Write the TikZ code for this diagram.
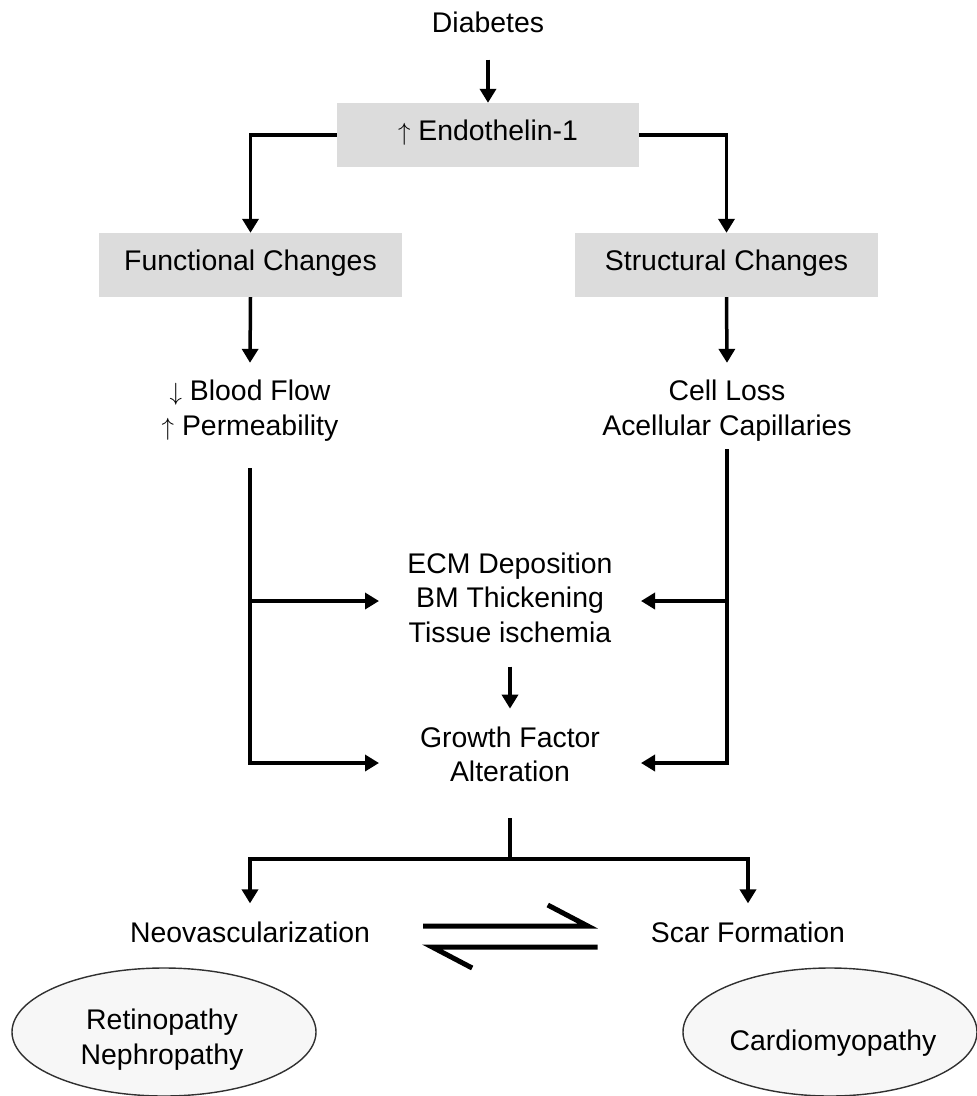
\documentclass[tikz,border=0pt]{standalone}
\usepackage{fontspec}
\setmainfont{Liberation Sans}
\usetikzlibrary{arrows.meta,shapes.geometric}
\definecolor{boxgray}{HTML}{DCDCDC}
\definecolor{ovalfill}{HTML}{F7F7F7}
\definecolor{ovaldraw}{HTML}{303030}

\begin{document}
\begin{tikzpicture}[x=1pt, y=-1pt,
    every node/.style={font=\fontsize{28.4}{34.5}\selectfont, inner sep=0pt, align=center},
    graybox/.style={fill=boxgray, minimum width=303pt, minimum height=64pt, text height=20pt, text depth=10pt},
    oval/.style={ellipse, fill=ovalfill, draw=ovaldraw, line width=1.4pt},
    link/.style={line width=3.5pt},
    flow/.style={link, -{Triangle[width=16pt,length=14pt]}},
    harp/.style={line width=5pt, line join=miter}]

    \useasboundingbox (0,0) rectangle (977,1096);

    % Top of the cascade
    \node (diab) at (488,22) {Diabetes};
    \node[graybox, minimum width=302pt] (endo) at (488,135) {$\uparrow$ Endothelin-1};
    \node[graybox] (func) at (250.5,265) {Functional Changes};
    \node[graybox] (struct) at (726.5,265) {Structural Changes};

    \draw[flow] ([yshift=-27pt]diab.south) -- (endo.north);
    \draw[flow] (endo.west) -| (func.north);
    \draw[flow] (endo.east) -| (struct.north);

    % The two branches
    \node (blood) at (250,410.5) {$\downarrow$ Blood Flow\\$\uparrow$ Permeability};
    \node (cell) at (727,410.5) {Cell Loss\\Acellular Capillaries};

    \draw[flow] (func.south) -- ([yshift=17pt]blood.north);
    \draw[flow] (struct.south) -- ([yshift=17pt]cell.north);

    % Middle column
    \node (ecm) at (510,597.5) {ECM Deposition\\BM Thickening\\Tissue ischemia};
    \node (growth) at (510,754.5) {Growth Factor\\Alteration};

    \draw[flow] ([yshift=-24pt]ecm.south) -- ([yshift=18pt]growth.north);

    \coordinate (ltop) at ([yshift=-27pt]blood.south);
    \coordinate (rtop) at ([yshift=-8pt]cell.south);
    \coordinate (ecmL) at (379,601);
    \coordinate (ecmR) at (641,601);
    \coordinate (growL) at (379,763);
    \coordinate (growR) at (641,763);

    \draw[flow] (ltop) |- (growL);
    \draw[flow] (rtop) |- (growR);
    \draw[flow] (ltop |- ecmL) -- (ecmL);
    \draw[flow] (rtop |- ecmR) -- (ecmR);

    % Outcomes
    \node (neo) at (250,932) {Neovascularization};
    \node (scar) at (748,932) {Scar Formation};

    \coordinate (split) at (510,859);
    \draw[link] ([yshift=-36pt]growth.south) -- (split);
    \draw[flow] (split) -| ([yshift=18pt]neo.north);
    \draw[flow] (split) -| ([yshift=18pt]scar.north);

    % Equilibrium harpoons
    \draw[harp] ([shift={(53,-6)}]neo.east) -- ([shift={(-63,-6)}]scar.west) -- ++(-40,-21);
    \draw[harp] ([shift={(-53,15)}]scar.west) -- ([shift={(62,15)}]neo.east) -- ++(40,21);

    % Diseases
    \node[oval, minimum width=304pt, minimum height=128pt] (retina) at (164,1032) {};
    \node (retinatext) at (162,1039.5) {Retinopathy\\Nephropathy};
    \node[oval, minimum width=294pt, minimum height=128pt] (cardio) at (830,1032) {};
    \node (cardiotext) at (833,1043) {Cardiomyopathy};

\end{tikzpicture}
\end{document}
